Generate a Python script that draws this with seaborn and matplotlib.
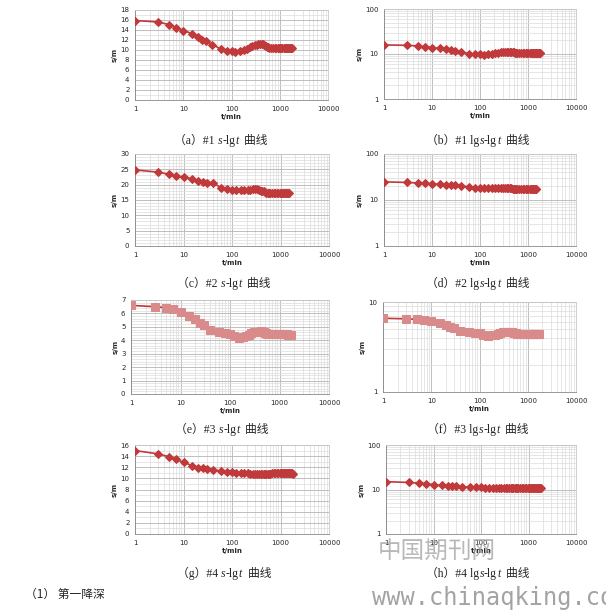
import matplotlib
matplotlib.use('Agg')
import matplotlib.pyplot as plt
import seaborn as sns
from matplotlib.ticker import LogLocator, FixedLocator, AutoMinorLocator, NullFormatter, FuncFormatter

sns.set_style('white')
plt.rcParams['font.family'] = ['DejaVu Sans', 'Noto Sans CJK SC']

# time points (min), shared by all wells
t = [1, 3, 5, 7, 10, 15, 20, 25, 30, 40, 60, 80, 100, 120, 150, 180, 210, 240, 270, 300,
     330, 360, 390, 420, 450, 480, 510, 540, 570, 600, 660, 720, 780, 840, 900, 960,
     1020, 1080, 1140, 1200, 1260, 1320, 1380, 1440, 1500, 1560, 1620, 1680, 1740, 1800]

# drawdown s (m) for each well
s1 = [15.9, 15.6, 15.1, 14.5, 13.9, 13.3, 12.7, 12.1, 11.8, 11.1, 10.2, 9.9, 9.8, 9.7, 9.8,
      10.05, 10.3, 10.6, 10.8, 11.0, 11.1, 11.15, 11.2, 11.2, 11.15, 11.1, 10.9, 10.7, 10.6,
      10.5, 10.45, 10.4, 10.4, 10.4, 10.4, 10.4, 10.4, 10.4, 10.4, 10.4, 10.4, 10.4, 10.4,
      10.4, 10.4, 10.4, 10.4, 10.4, 10.4, 10.4]
s2 = [24.8, 24.1, 23.4, 22.9, 22.5, 21.9, 21.2, 20.8, 20.7, 20.6, 19.0, 18.5, 18.4, 18.3,
      18.2, 18.2, 18.1, 18.3, 18.5, 18.5, 18.5, 18.3, 18.0, 18.0, 18.0, 17.6, 17.4, 17.4,
      17.4, 17.4, 17.4, 17.4, 17.4, 17.4, 17.4, 17.4, 17.4, 17.4, 17.4, 17.4, 17.4, 17.4,
      17.4, 17.4, 17.4]
s3 = [6.60, 6.50, 6.43, 6.30, 6.13, 5.83, 5.56, 5.31, 5.14, 4.76, 4.64, 4.57, 4.49, 4.34,
      4.19, 4.27, 4.34, 4.39, 4.54, 4.59, 4.62, 4.64, 4.64, 4.66, 4.64, 4.62, 4.57, 4.52,
      4.47, 4.45, 4.45, 4.45, 4.45, 4.45, 4.45, 4.45, 4.45, 4.45, 4.45, 4.45, 4.45, 4.44,
      4.44, 4.44, 4.43, 4.43, 4.42, 4.42]
s4 = [15.0, 14.4, 13.9, 13.4, 12.9, 12.3, 11.9, 11.8, 11.7, 11.55, 11.3, 11.2, 11.15, 11.0,
      10.95, 10.95, 10.9, 10.85, 10.85, 10.8, 10.8, 10.8, 10.8, 10.8, 10.8, 10.85, 10.85,
      10.85, 10.85, 10.85, 10.9, 10.9, 10.9, 10.9, 10.9, 10.9, 10.9, 10.9, 10.9, 10.9,
      10.9, 10.9, 10.9, 10.9, 10.9, 10.9, 10.9, 10.9, 10.9, 10.85]

# caption pieces: (text, italic?)
captions = [
    [('（a）#1 ', False), ('s', True), ('-lg', False), ('t', True), ('  曲线', False)],
    [('（b）#1 lg', False), ('s', True), ('-lg', False), ('t', True), ('  曲线', False)],
    [('（c）#2 ', False), ('s', True), ('-lg', False), ('t', True), ('  曲线', False)],
    [('（d）#2 lg', False), ('s', True), ('-lg', False), ('t', True), ('  曲线', False)],
    [('（e）#3 ', False), ('s', True), ('-lg', False), ('t', True), ('  曲线', False)],
    [('（f）#3 lg', False), ('s', True), ('-lg', False), ('t', True), ('  曲线', False)],
    [('（g）#4 ', False), ('s', True), ('-lg', False), ('t', True), ('  曲线', False)],
    [('（h）#4 lg', False), ('s', True), ('-lg', False), ('t', True), ('  曲线', False)],
]
# caption centre (x) and y, pixels
cap_pos = [(221, 141), (478, 141), (224, 284), (478, 284),
           (222, 430), (478, 430), (224, 574), (478, 574)]

W, H = 606, 610
fig = plt.figure(figsize=(W / 100, H / 100), dpi=100)
fig.patch.set_facecolor('white')

# axes boxes in pixels: left, right, top, bottom
boxes = [(135, 328, 10, 100), (384, 576, 9, 99),
         (135, 329, 154, 246), (384, 576, 154, 246),
         (131, 329, 300, 394), (383, 576, 302, 392),
         (135, 329, 445, 534), (386, 576, 445, 534)]

red = '#c0393b'
pink = '#d98a8a'

# (series, log y?, ylim, major step, minor count, marker style)
panels = [
    (s1, False, (0, 18), 2, 2, 'D'), (s1, True, (1, 100), None, None, 'D'),
    (s2, False, (0, 30), 5, 5, 'D'), (s2, True, (1, 100), None, None, 'D'),
    (s3, False, (0, 7), 1, 5, 's'), (s3, True, (1, 10), None, None, 's'),
    (s4, False, (0, 16), 2, 2, 'D'), (s4, True, (1, 100), None, None, 'D'),
]

for i, (box, (s, logy, ylim, step, nminor, mk)) in enumerate(zip(boxes, panels)):
    l, r, tp, bt = box
    ax = fig.add_axes([l / W, 1 - bt / H, (r - l) / W, (bt - tp) / H])
    tt = t[:len(s)]
    if mk == 's':
        sns.lineplot(x=tt, y=s, ax=ax, color=red, linewidth=1.2, marker='s', markersize=5.5,
                     markerfacecolor=pink, markeredgecolor=pink, zorder=3)
    else:
        sns.lineplot(x=tt, y=s, ax=ax, color=red, linewidth=1.2, marker='D', markersize=3.6,
                     markerfacecolor=red, markeredgecolor=red, zorder=3)
    ax.set_xscale('log')
    ax.set_xlim(1, 10000)
    ax.xaxis.set_major_locator(LogLocator(base=10, numticks=10))
    ax.xaxis.set_minor_locator(LogLocator(base=10, subs=range(2, 10), numticks=20))
    ax.xaxis.set_major_formatter(FuncFormatter(lambda v, p: '%d' % v))
    ax.xaxis.set_minor_formatter(NullFormatter())
    if logy:
        ax.set_yscale('log')
        ax.set_ylim(*ylim)
        ax.yaxis.set_major_locator(LogLocator(base=10, numticks=10))
        ax.yaxis.set_minor_locator(LogLocator(base=10, subs=range(2, 10), numticks=20))
        ax.yaxis.set_major_formatter(FuncFormatter(lambda v, p: '%d' % v))
        ax.yaxis.set_minor_formatter(NullFormatter())
    else:
        ax.set_ylim(*ylim)
        ax.yaxis.set_major_locator(FixedLocator(list(range(ylim[0], ylim[1] + 1, step))))
        ax.yaxis.set_minor_locator(AutoMinorLocator(nminor))
    ax.grid(which='major', color='#b4b4b4', linewidth=0.6)
    ax.grid(which='minor', color='#dcdcdc', linewidth=0.5)
    ax.set_axisbelow(True)
    for sp in ax.spines.values():
        sp.set_color('#c8c8c8')
        sp.set_linewidth(0.6)
    ax.spines['left'].set_color('#888888')
    ax.spines['bottom'].set_color('#888888')
    ax.tick_params(which='major', labelsize=5, length=2, width=0.5, color='#888888', pad=2,
                   direction='out')
    ax.tick_params(which='minor', length=0)
    ax.set_xlabel('t/min', fontsize=5, fontweight='bold', labelpad=2)
    ax.set_ylabel('s/m', fontsize=5, fontweight='bold', labelpad=2)

# captions built from pieces so s and t can be italic
cap_fam = ['Liberation Serif', 'Noto Sans CJK SC']
cap_chains = []
for pieces, (cx, cy) in zip(captions, cap_pos):
    chain = [fig.text(0, 0, txt, fontsize=8.5, ha='left', va='baseline', family=cap_fam,
                      style='italic' if it else 'normal') for txt, it in pieces]
    cap_chains.append((chain, cx, cy))

fig.canvas.draw()
rend = fig.canvas.get_renderer()
for chain, cx, cy in cap_chains:
    widths = [c.get_window_extent(rend).width for c in chain]
    x = cx - sum(widths) / 2
    # pieces side by side on a shared baseline
    for c, w in zip(chain, widths):
        c.set_position((x / W, 1 - (cy + 3) / H))
        x += w

# section label (the space keeps the full-width bracket from collapsing)
fig.text(25 / W, 1 - 594 / H, '（1） 第一降深', fontsize=8.5, ha='left', va='center',
         family=['Noto Sans CJK SC'])

# site watermark
fig.text(378 / W, 1 - 551 / H, '中国期刊网', fontsize=17, ha='left', va='center',
         color='#9a9a9a', alpha=0.7, family=['Noto Sans CJK SC'])
fig.text(372 / W, 1 - 598 / H, 'www.chinaqking.com', fontsize=17, ha='left', va='center',
         color='#8c8c8c', alpha=0.8, family=['DejaVu Sans Mono'])

fig.savefig('out.png', dpi=100, facecolor='white')
